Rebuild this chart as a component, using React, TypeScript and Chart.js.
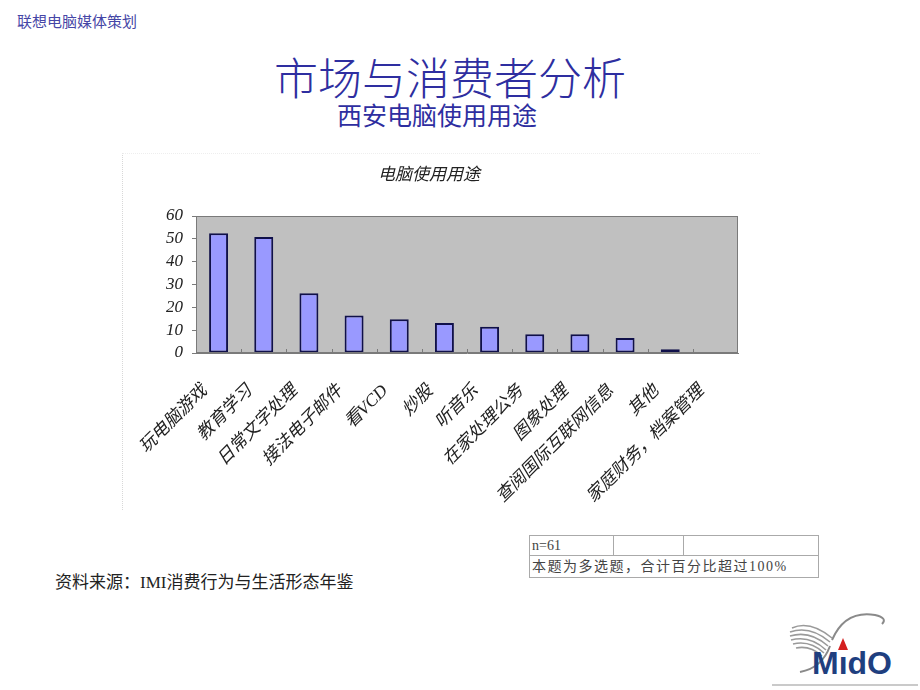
import React, { useEffect, useRef } from "react";
import { Chart, registerables } from "chart.js";

Chart.register(...registerables);

const categories = [
  "玩电脑游戏",
  "教育学习",
  "日常文字处理",
  "接法电子邮件",
  "看VCD",
  "炒股",
  "听音乐",
  "在家处理公务",
  "图象处理",
  "查阅国际互联网信息",
  "其他",
  "家庭财务，档案管理",
];
const usageShare = [52.5, 50.8, 26.2, 16.4, 14.8, 13.1, 11.5, 8.2, 8.2, 6.6, 1.6, 0];
const yTicks = [0, 10, 20, 30, 40, 50, 60];

const SERIF = "'Liberation Serif', 'Noto Sans CJK SC', serif";
const CJK = "'Noto Sans CJK SC', 'Noto Sans', sans-serif";

const plotDecor = {
  id: "plotDecor",
  beforeDraw(chart: any) {
    const { ctx, chartArea: a } = chart;
    ctx.save();
    ctx.fillStyle = "#c0c0c0";
    ctx.fillRect(a.left, a.top, a.right - a.left, a.bottom - a.top);
    ctx.restore();
  },
  afterDatasetsDraw(chart: any) {
    const { ctx, chartArea: a, scales } = chart;
    const x = scales.x;
    ctx.save();
    ctx.strokeStyle = "#7a7a7a";
    ctx.lineWidth = 1;
    ctx.strokeRect(a.left + 0.5, a.top + 0.5, a.right - a.left - 1, a.bottom - a.top - 1);
    ctx.beginPath();
    for (let i = 1; i < categories.length; i++) {
      const px = Math.round((x.getPixelForValue(i - 1) + x.getPixelForValue(i)) / 2) + 0.5;
      ctx.moveTo(px, a.bottom);
      ctx.lineTo(px, a.bottom - 4);
    }
    ctx.stroke();
    ctx.restore();
  },
};

function UsageChart() {
  const ref = useRef<HTMLCanvasElement | null>(null);
  useEffect(() => {
    if (!ref.current) return;
    const chart = new Chart(ref.current, {
      type: "bar",
      data: {
        labels: categories,
        datasets: [
          {
            data: usageShare,
            backgroundColor: "#9999ff",
            borderColor: "#10104a",
            borderWidth: 2,
            borderSkipped: false,
            categoryPercentage: 1,
            barPercentage: 0.42,
          },
        ],
      },
      options: {
        responsive: false,
        animation: false,
        layout: { padding: { left: 0, right: 22, top: 0, bottom: 0 } },
        plugins: {
          legend: { display: false },
          tooltip: { enabled: false },
          title: {
            display: true,
            text: "电脑使用用途",
            color: "#222",
            font: { family: SERIF, size: 17, style: "italic", weight: "normal" },
            padding: { top: 15, bottom: 30.6 },
          },
        },
        scales: {
          x: {
            grid: { display: false },
            border: { display: true, color: "#7a7a7a" },
            ticks: {
              autoSkip: false,
              maxRotation: 45,
              minRotation: 45,
              padding: 20,
              labelOffset: -14,
              color: "#222",
              font: { family: SERIF, size: 17.5, style: "italic" },
            },
            afterFit: (s: any) => {
              s.height = 167;
            },
          },
          y: {
            min: 0,
            max: 60,
            afterBuildTicks: (s: any) => {
              s.ticks = yTicks.map((v) => ({ value: v }));
            },
            grid: {
              drawOnChartArea: false,
              drawTicks: true,
              tickLength: 4,
              color: "#7a7a7a",
            },
            border: { display: true, color: "#7a7a7a" },
            ticks: {
              autoSkip: false,
              stepSize: 10,
              padding: 9,
              color: "#222",
              font: { family: SERIF, size: 17, style: "italic" },
            },
            afterFit: (s: any) => {
              s.width = 76;
            },
          },
        },
      },
      plugins: [plotDecor],
    });
    return () => chart.destroy();
  }, []);
  return <canvas ref={ref} width={640} height={370} style={{ display: "block" }} />;
}

function Logo() {
  return (
    <div style={{ position: "absolute", left: 770, top: 600, width: 150, height: 90 }}>
      <svg width={150} height={90} style={{ position: "absolute", left: 0, top: 0 }}>
        <g fill="none" stroke="#9a9a9a" strokeWidth={1.6}>
          <path d="M22 28 Q40 20 62 38" />
          <path d="M20 32 Q40 25 60 42" />
          <path d="M20 36 Q40 30 58 46" />
          <path d="M21 40 Q40 35 56 50" />
          <path d="M23 44 Q40 40 54 53" />
          <path d="M26 48 Q40 45 52 56" />
        </g>
        <path d="M62 40 Q75 10 105 15 Q118 18 112 24" fill="none" stroke="#8a8a8a" strokeWidth={2} />
        <path d="M60 46 Q52 68 30 72" fill="none" stroke="#8a8a8a" strokeWidth={2} />
        <polygon points="73,38 68,50 78,50" fill="#d42020" />
        <line x1={2} y1={85} x2={148} y2={85} stroke="#b8b8b8" strokeWidth={1.5} />
      </svg>
      <div
        style={{
          position: "absolute",
          left: 42,
          top: 46,
          fontFamily: "'Liberation Sans', Arial, sans-serif",
          fontWeight: "bold",
          fontSize: 32,
          lineHeight: "34px",
          color: "#1f3f7f",
          letterSpacing: 0,
        }}
      >
        MıdO
      </div>
    </div>
  );
}

export default function App() {
  return (
    <div
      style={{
        position: "absolute",
        left: 0,
        top: 0,
        width: 920,
        height: 690,
        background: "#ffffff",
        overflow: "hidden",
      }}
    >
      <div
        style={{
          position: "absolute",
          left: 17,
          top: 12,
          fontFamily: CJK,
          fontSize: 15,
          lineHeight: "18px",
          color: "#4646a6",
          whiteSpace: "nowrap",
        }}
      >
        联想电脑媒体策划
      </div>
      <div
        style={{
          position: "absolute",
          left: 0,
          width: 900,
          top: 48,
          textAlign: "center",
          fontFamily: CJK,
          fontSize: 44,
          fontWeight: 300,
          lineHeight: "56px",
          color: "#2e2ea0",
          whiteSpace: "nowrap",
        }}
      >
        市场与消费者分析
      </div>
      <div
        style={{
          position: "absolute",
          left: 0,
          width: 874,
          top: 99,
          textAlign: "center",
          fontFamily: CJK,
          fontSize: 25,
          lineHeight: "30px",
          color: "#2e2ea0",
          whiteSpace: "nowrap",
        }}
      >
        西安电脑使用用途
      </div>
      <div
        style={{
          position: "absolute",
          left: 122,
          top: 153,
          width: 638,
          height: 357,
          borderLeft: "1px dotted #d8d8d8",
          borderTop: "1px dotted #eeeeee",
          boxSizing: "border-box",
        }}
      />
      <div style={{ position: "absolute", left: 120, top: 150 }}>
        <UsageChart />
      </div>
      <table
        style={{
          position: "absolute",
          left: 529,
          top: 535,
          width: 290,
          borderCollapse: "collapse",
          fontFamily: SERIF,
          fontSize: 14,
          color: "#444",
          tableLayout: "fixed",
        }}
      >
        <tbody>
          <tr style={{ height: 20 }}>
            <td style={{ width: 79, border: "1px solid #aaa", padding: "0 2px", lineHeight: "18px" }}>n=61</td>
            <td style={{ width: 69, border: "1px solid #aaa", padding: 0 }}></td>
            <td style={{ border: "1px solid #aaa", padding: 0 }}></td>
          </tr>
          <tr style={{ height: 22 }}>
            <td
              colSpan={3}
              style={{
                border: "1px solid #aaa",
                padding: "0 2px",
                lineHeight: "20px",
                whiteSpace: "nowrap",
                letterSpacing: 1.5,
              }}
            >
              本题为多选题，合计百分比超过100%
            </td>
          </tr>
        </tbody>
      </table>
      <div
        style={{
          position: "absolute",
          left: 55,
          top: 572,
          fontFamily: SERIF,
          fontSize: 17,
          lineHeight: "22px",
          color: "#222",
          whiteSpace: "nowrap",
        }}
      >
        资料来源：IMI消费行为与生活形态年鉴
      </div>
      <Logo />
    </div>
  );
}
